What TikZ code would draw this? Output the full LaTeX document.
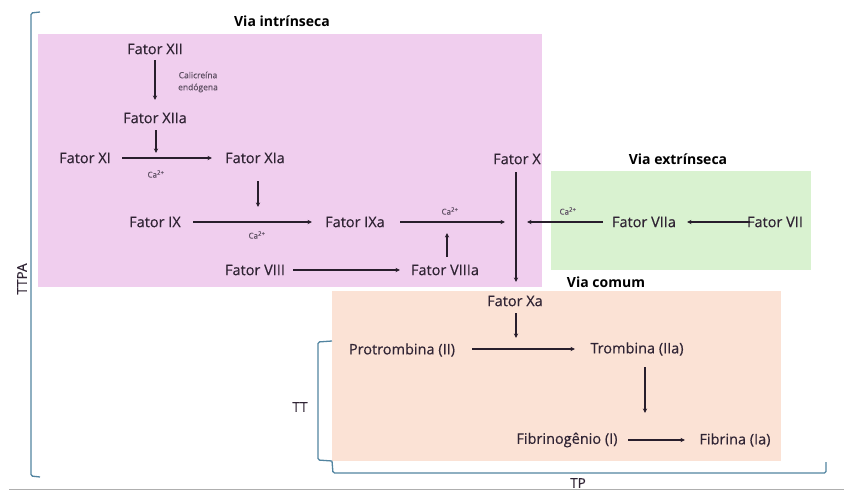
\documentclass[tikz,border=0pt]{standalone}
\usepackage{fontspec}
\setmainfont{Open Sans}
\newfontfamily\medfont{Open Sans}[FakeBold=0.35]
\usetikzlibrary{arrows.meta,calc}
\definecolor{pinkbg}{RGB}{240,206,238}
\definecolor{greenbg}{RGB}{217,242,208}
\definecolor{peachbg}{RGB}{251,226,213}
\definecolor{brk}{RGB}{82,132,160}
\definecolor{txt}{RGB}{48,36,52}
\definecolor{arrc}{RGB}{40,30,44}
\definecolor{smalltxt}{RGB}{95,80,100}
\definecolor{rulegray}{RGB}{175,175,175}
\tikzset{
  fac/.style={inner sep=0pt, text=txt, font=\medfont\fontsize{14.5}{16}\selectfont},
  ttl/.style={inner sep=0pt, text=black, font=\fontsize{14}{16}\selectfont\bfseries},
  ca/.style={inner sep=0pt, text=smalltxt, font=\medfont\fontsize{8}{9}\selectfont},
  lbl/.style={inner sep=0pt, text=txt, font=\medfont\fontsize{13.5}{15}\selectfont},
  arr/.style={draw=arrc, line width=1.2pt, -{Stealth[length=4.5pt,width=4.2pt]}},
  brack/.style={draw=brk, line width=1.3pt, rounded corners=1.5pt},
}
\begin{document}
\begin{tikzpicture}[x=1pt,y=-1pt]
\useasboundingbox (0,0) rectangle (844,491);
% boxes
\fill[pinkbg] (38,34) rectangle (542,287);
\fill[greenbg] (551,171) rectangle (811,270);
\fill[peachbg] (332,291) rectangle (781,461);
% titles
\node[ttl] (tint) at (282,21) {Via intrínseca};
\node[ttl] (text) at (678,159) {Via extrínseca};
\node[ttl] (tcom) at (606,282) {Via comum};
% factors
\node[fac] (xii) at (155,49) {Fator XII};
\node[fac] (xiia) at (155,118) {Fator XIIa};
\node[fac] (xi) at (85,158) {Fator XI};
\node[fac] (xia) at (255,158) {Fator XIa};
\node[fac] (ix) at (155,222) {Fator IX};
\node[fac] (ixa) at (355,222) {Fator IXa};
\node[fac] (viii) at (255,270) {Fator VIII};
\node[fac] (viiia) at (445,270) {Fator VIIIa};
\node[fac] (x) at (517,159) {Fator X};
\node[fac] (viia) at (644,222) {Fator VIIa};
\node[fac] (vii) at (775,222) {Fator VII};
\node[fac] (xa) at (515,301) {Fator Xa};
\node[fac] (pro) at (402,350) {Protrombina (II)};
\node[fac] (tro) at (637,349) {Trombina (IIa)};
\node[fac] (fbg) at (567,440) {Fibrinogênio (I)};
\node[fac] (fib) at (735,440) {Fibrina (Ia)};
% small labels
\node[inner sep=0pt, text=smalltxt, align=center, font=\medfont\fontsize{8.5}{12}\selectfont] (cal) at (198,82) {Calicreína\\endógena};
\node[ca] (ca1) at (156,174) {Ca\textsuperscript{2+}};
\node[ca] (ca2) at (257,235) {Ca\textsuperscript{2+}};
\node[ca] (ca3) at (450,211) {Ca\textsuperscript{2+}};
\node[ca] (ca4) at (568,211) {Ca\textsuperscript{2+}};
% coordinate where the two pathways meet
\coordinate (jx) at (516,222);
% arrows
\draw[arr] ($(xii)+(0,11)$) -- ($(xiia)+(0,-18)$);
\draw[arr] ($(xiia)+(1,12)$) -- ($(xiia |- xi)+(1,-5)$);
\draw[arr] ($(xi)+(37,0)$) -- ($(xia)+(-43,0)$);
\draw[arr] ($(xia)+(3,23)$) -- ($(xia |- ix)+(3,-15)$);
\draw[arr] ($(ix)+(38,0)$) -- ($(ixa)+(-43,0)$);
\draw[arr] ($(ixa)+(45,0)$) -- ($(jx)+(-11,0)$);
\draw[arr] ($(viiia)+(2,-13)$) -- ($(viiia |- ixa)+(2,11)$);
\draw[arr] ($(viii)+(38,0)$) -- ($(viiia)+(-45,0)$);
\draw[arr] ($(x)+(-1,13)$) -- ($(xa)+(1,-19)$);
\draw[arr] ($(viia)+(-41,0)$) -- ($(jx)+(11,0)$);
\draw[arr] ($(vii)+(-25,0)$) -- ($(viia)+(43,0)$);
\draw[arr] ($(xa)+(1,12)$) -- ($(xa |- pro)+(1,-12)$);
\draw[arr] ($(pro)+(70,-1)$) -- ($(tro)+(-62,0)$);
\draw[arr] ($(tro)+(8,18)$) -- ($(tro |- fbg)+(8,-27)$);
\draw[arr] ($(fbg)+(61,0)$) -- ($(fib)+(-50,0)$);
% brackets
\draw[brack] (40,12) -- (31,13) -- (31,476) -- (40,477);
\node[lbl, rotate=90] (ttpa) at (22,279) {TTPA};
\draw[brack] (332,341) -- (318,342) -- (318,460) -- (332,461);
\draw[brack] (332,461) -- (333,473) -- (826,473) -- (826,462);
\node[lbl] (tt) at (300,407) {TT};
\node[lbl] (tp) at (578,483) {TP};
% bottom rule
\draw[rulegray, line width=1pt] (9,489) -- (844,489);
\end{tikzpicture}
\end{document}
